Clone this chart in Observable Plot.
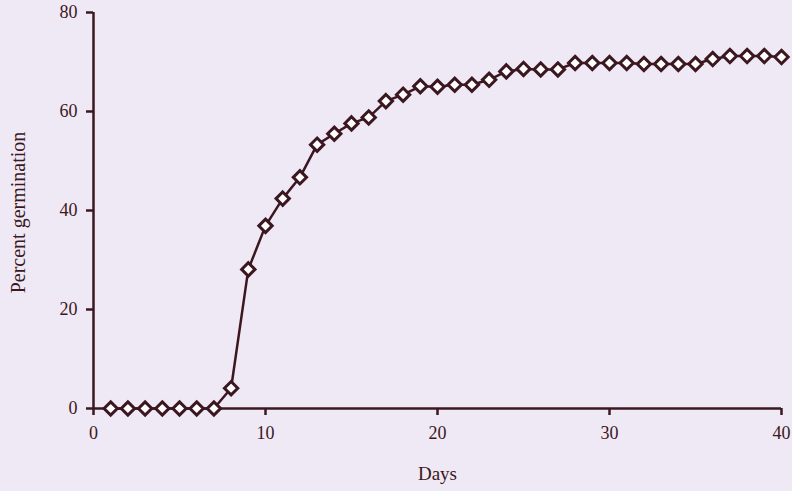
<!DOCTYPE html>
<html>
<head>
<meta charset="utf-8">
<script src="https://cdn.jsdelivr.net/npm/d3@7"></script>
<script src="https://cdn.jsdelivr.net/npm/@observablehq/plot@0.6"></script>
<style>
  html, body { margin: 0; padding: 0; background: #efe9f6; }
  #chart { width: 792px; height: 491px; }
</style>
</head>
<body>
<div id="chart"></div>
<script>
const days = [1,2,3,4,5,6,7,8,9,10,11,12,13,14,15,16,17,18,19,20,21,22,23,24,25,26,27,28,29,30,31,32,33,34,35,36,37,38,39,40];
const germination = [0,0,0,0,0,0,0,4.1,28.1,36.9,42.4,46.7,53.3,55.5,57.6,58.8,62.1,63.4,65.1,65.0,65.4,65.4,66.4,68.1,68.6,68.5,68.5,69.8,69.8,69.8,69.8,69.6,69.6,69.6,69.6,70.6,71.2,71.2,71.2,71.0];
const xTicks = [0,10,20,30,40];
const yTicks = [0,20,40,60,80];
const xLabel = "Days";
const yLabel = "Percent germination";

const data = days.map((d, i) => ({day: d, pct: germination[i]}));
const ink = "#3b1720";

const chart = Plot.plot({
  width: 792,
  height: 491,
  marginLeft: 93,
  marginRight: 11,
  marginTop: 12,
  marginBottom: 83,
  style: {background: "#efe9f6", fontFamily: "'Liberation Serif', 'DejaVu Serif', serif", fontSize: "18px", color: ink},
  x: {domain: [0, 40]},
  y: {domain: [0, 80]},
  marks: [
    Plot.axisX({ticks: xTicks, tickSize: 7, tickPadding: 11, stroke: ink, strokeWidth: 2.5, fill: ink, fontSize: 18, label: null}),
    Plot.axisY({ticks: yTicks, tickSize: 7, tickPadding: 9, stroke: ink, strokeWidth: 2.5, fill: ink, fontSize: 18, label: null}),
    Plot.ruleY([0], {stroke: ink, strokeWidth: 2.5}),
    Plot.ruleX([0], {stroke: ink, strokeWidth: 2.5}),
    Plot.line(data, {x: "day", y: "pct", stroke: ink, strokeWidth: 2.5}),
    Plot.dot(data, {x: "day", y: "pct", symbol: "diamond2", r: 6, stroke: ink, strokeWidth: 3, fill: "white"}),
    Plot.text([xLabel], {frameAnchor: "bottom", dy: 71, fill: ink, fontSize: 19}),
    Plot.text([yLabel], {frameAnchor: "left", textAnchor: "middle", dx: -75, dy: 2, rotate: -90, fill: ink, fontSize: 20})
  ]
});
document.getElementById("chart").appendChild(chart);
</script>
</body>
</html>
